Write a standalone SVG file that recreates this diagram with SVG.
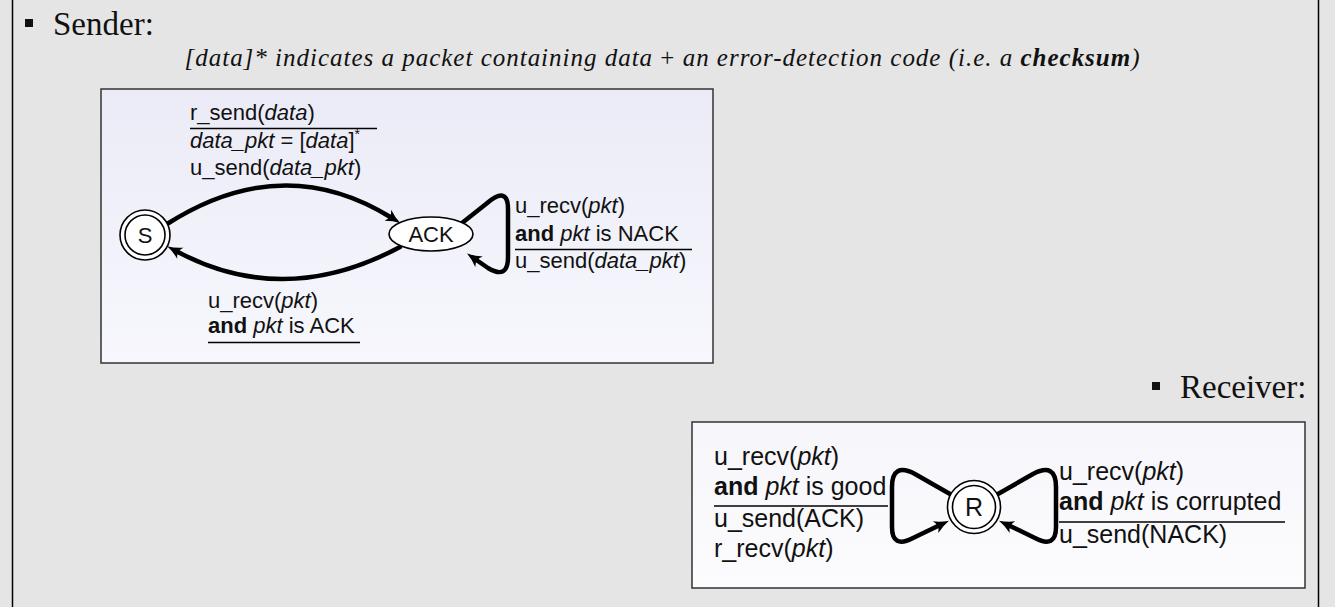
<svg xmlns="http://www.w3.org/2000/svg" width="1335" height="607" viewBox="0 0 1335 607">
  <style>
    .bg{fill:#e5e5e5}
    .frame{stroke:#000;stroke-width:1.5}
    .head{font-family:"Liberation Serif","Times New Roman",serif;font-size:33px;fill:#111}
    .note{font-family:"Liberation Serif","Times New Roman",serif;font-size:25px;font-style:italic;fill:#111}
    .lbl{font-family:"Liberation Sans",Arial,sans-serif;font-size:22px;fill:#111}
    .lblr{font-family:"Liberation Sans",Arial,sans-serif;font-size:25px;fill:#111}
    .it{font-style:italic}
    .b{font-weight:bold}
    .box{stroke:#333;stroke-width:1.5}
    .state{fill:#fff;stroke:#000;stroke-width:1.6}
    .edge{fill:none;stroke:#000;stroke-width:4.5;stroke-linecap:round;stroke-linejoin:round;marker-end:url(#arr)}
    .rule{stroke:#000;stroke-width:1.4}
  </style>
  <defs>
    <linearGradient id="gs" x1="0" y1="0" x2="0" y2="1">
      <stop offset="0" stop-color="#ebebf7"/>
      <stop offset="1" stop-color="#f7f7fd"/>
    </linearGradient>
    <linearGradient id="gr" x1="0" y1="0" x2="0" y2="1">
      <stop offset="0" stop-color="#f6f6fb"/>
      <stop offset="1" stop-color="#fcfcfe"/>
    </linearGradient>
    <marker id="arr" markerUnits="userSpaceOnUse" markerWidth="20" markerHeight="16" viewBox="0 -8 20 16" refX="5" refY="0" orient="auto">
      <path d="M15,0 Q7,-2 0,-6.5 Q5,0 0,6.5 Q7,2 15,0 Z" fill="#000"/>
    </marker>
  </defs>

  <rect class="bg" x="0" y="0" width="1335" height="607"/>
  <line class="frame" x1="12.5" y1="0" x2="12.5" y2="607"/>
  <line class="frame" x1="1318.5" y1="0" x2="1318.5" y2="607"/>

  <g id="sender-heading">
    <rect x="25" y="19" width="8" height="8" fill="#111"/>
    <text class="head" x="53" y="35">Sender:</text>
  </g>
  <text id="note" class="note" x="662" y="66" text-anchor="middle" textLength="955" lengthAdjust="spacing">[data]* indicates a packet containing data <tspan font-style="normal">+</tspan> an error-detection code (i.e. a <tspan font-weight="bold">checksum</tspan>)</text>

  <g id="receiver-heading">
    <rect x="1152" y="382" width="8" height="8" fill="#111"/>
    <text class="head" x="1180" y="398">Receiver:</text>
  </g>

  <!-- panels -->
  <rect id="sender-box" class="box" x="101" y="89" width="612" height="274" fill="url(#gs)"/>
  <rect id="receiver-box" class="box" x="692" y="422" width="613" height="166" fill="url(#gr)"/>

  <g id="connectors">
    <path id="e-s-ack" class="edge" d="M167,224 Q283,150 392,218"/>
    <path id="e-ack-s" class="edge" d="M400,247 Q284,309 176,251"/>
    <path id="e-ack-ack" class="edge" d="M462,223 L486,204 Q508,185 508,209 L508,257 Q508,280 488,268 L475,259"/>
    <path id="e-r-left" class="edge" d="M950,494 L915,474 Q892,462 892,487 L892,527 Q892,549 913,538 L940,525"/>
    <path id="e-r-right" class="edge" d="M998,494 L1033,474 Q1056,462 1056,487 L1056,527 Q1056,549 1035,538 L1008,525"/>
  </g>

  <g id="node-S">
    <circle class="state" cx="145" cy="235" r="25"/>
    <circle class="state" cx="145" cy="235" r="20"/>
    <text class="lbl" x="145" y="243" text-anchor="middle">S</text>
  </g>
  <g id="node-ACK">
    <ellipse class="state" cx="431" cy="234" rx="42" ry="17"/>
    <text class="lbl" x="431" y="242" text-anchor="middle">ACK</text>
  </g>
  <g id="node-R">
    <circle class="state" cx="974" cy="507" r="26.5"/>
    <circle class="state" cx="974" cy="507" r="21.5"/>
    <text class="lblr" x="974" y="516" text-anchor="middle">R</text>
  </g>

  <g id="label-s-ack">
    <text class="lbl" x="190" y="120">r_send(<tspan class="it">data</tspan>)</text>
    <line class="rule" x1="190" y1="128.5" x2="377" y2="128.5"/>
    <text class="lbl" x="190" y="148"><tspan class="it">data_pkt</tspan> = [<tspan class="it">data</tspan>]<tspan font-size="14" dy="-9">*</tspan></text>
    <text class="lbl" x="190" y="175">u_send(<tspan class="it">data_pkt</tspan>)</text>
  </g>
  <g id="label-ack-s">
    <text class="lbl" x="208" y="308">u_recv(<tspan class="it">pkt</tspan>)</text>
    <text class="lbl" x="208" y="333"><tspan class="b">and</tspan> <tspan class="it">pkt</tspan> is ACK</text>
    <line class="rule" x1="208" y1="342.5" x2="360" y2="342.5"/>
  </g>
  <g id="label-ack-ack">
    <text class="lbl" x="515" y="213">u_recv(<tspan class="it">pkt</tspan>)</text>
    <text class="lbl" x="515" y="241"><tspan class="b">and</tspan> <tspan class="it">pkt</tspan> is NACK</text>
    <line class="rule" x1="515" y1="249.5" x2="692" y2="249.5"/>
    <text class="lbl" x="515" y="268">u_send(<tspan class="it">data_pkt</tspan>)</text>
  </g>
  <g id="label-r-left">
    <text class="lblr" x="714" y="465">u_recv(<tspan class="it">pkt</tspan>)</text>
    <text class="lblr" x="714" y="495"><tspan class="b">and</tspan> <tspan class="it">pkt</tspan> is good</text>
    <line class="rule" x1="714" y1="506" x2="888" y2="506"/>
    <text class="lblr" x="714" y="527">u_send(ACK)</text>
    <text class="lblr" x="714" y="557">r_recv(<tspan class="it">pkt</tspan>)</text>
  </g>
  <g id="label-r-right">
    <text class="lblr" x="1059" y="480">u_recv(<tspan class="it">pkt</tspan>)</text>
    <text class="lblr" x="1059" y="510"><tspan class="b">and</tspan> <tspan class="it">pkt</tspan> is corrupted</text>
    <line class="rule" x1="1059" y1="522" x2="1285" y2="522"/>
    <text class="lblr" x="1059" y="543">u_send(NACK)</text>
  </g>
</svg>
